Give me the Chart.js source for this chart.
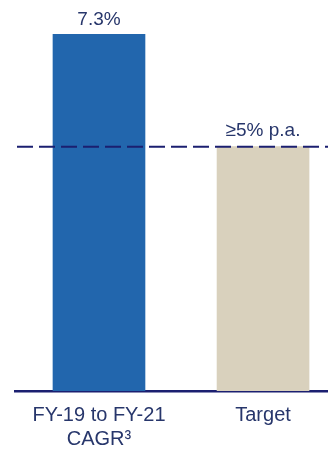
<!DOCTYPE html>
<html>
<head>
<meta charset="utf-8">
<script src="https://cdn.jsdelivr.net/npm/chart.js@4/dist/chart.umd.min.js"></script>
<style>
  html, body { margin: 0; padding: 0; background: #fff; }
  #wrap { width: 328px; height: 450px; position: relative; }
</style>
</head>
<body>
<div id="wrap"><canvas id="cagrChart"></canvas></div>
<script>
// growth figures
const categories = [['FY-19 to FY-21', 'CAGR\u00b3'], 'Target'];
const values = [7.3, 5];
const valueLabels = ['7.3%', '\u22655% p.a.'];
const targetLine = 5;

const TEXT = '#27366b';
const NAVY = '#1b1f70';
const FONT = '"Liberation Sans", Arial, sans-serif';

// dashed target line + labels over the bars
const overlay = {
  id: 'overlay',
  afterDatasetsDraw(chart) {
    const { ctx, chartArea, scales } = chart;
    const y = scales.y.getPixelForValue(targetLine);
    ctx.save();
    ctx.strokeStyle = NAVY;
    ctx.lineWidth = 2;
    ctx.setLineDash([16, 6]);
    ctx.beginPath();
    ctx.moveTo(chartArea.left + 2, y);
    ctx.lineTo(chartArea.right, y);
    ctx.stroke();
    ctx.setLineDash([]);

    ctx.fillStyle = TEXT;
    ctx.font = '19px ' + FONT;
    ctx.textAlign = 'center';
    ctx.textBaseline = 'alphabetic';
    chart.getDatasetMeta(0).data.forEach((bar, i) => {
      ctx.fillText(valueLabels[i], bar.x, bar.y - (i === 0 ? 9 : 11));
    });
    ctx.restore();
  }
};

new Chart(document.getElementById('cagrChart'), {
  type: 'bar',
  data: {
    datasets: [{
      data: values.map((v, i) => ({ x: i, y: v })),
      backgroundColor: ['#2266ad', '#d9d1bd'],
      barThickness: 92,
      borderWidth: 0
    }]
  },
  options: {
    responsive: true,
    maintainAspectRatio: false,
    animation: false,
    layout: { padding: { left: 15, right: 0, top: 0, bottom: 0 } },
    plugins: { legend: { display: false }, tooltip: { enabled: false } },
    scales: {
      x: {
        type: 'linear',
        offset: false,
        min: -0.512,
        max: 1.396,
        afterBuildTicks: axis => { axis.ticks = categories.map((c, i) => ({ value: i })); },
        afterFit: axis => { axis.height = 59; },
        grid: { display: false, drawTicks: false, tickLength: 0 },
        border: { display: true, color: NAVY, width: 2.5 },
        ticks: {
          color: TEXT,
          font: { family: FONT, size: 20, lineHeight: 1.2 },
          padding: 12,
          maxRotation: 0,
          autoSkip: false,
          callback: v => categories[v]
        }
      },
      y: {
        display: false,
        min: 0,
        max: 8
      }
    }
  },
  plugins: [overlay]
});
</script>
</body>
</html>
